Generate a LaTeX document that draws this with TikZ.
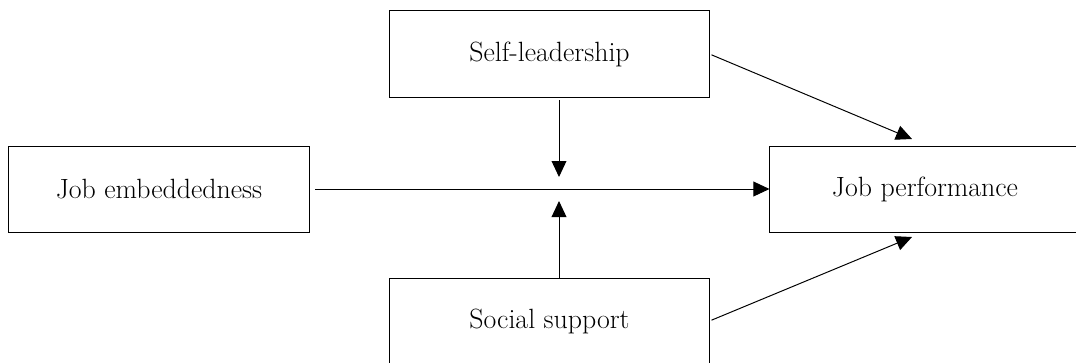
\documentclass[tikz,border=0pt]{standalone}
\usepackage{tikz}
\usetikzlibrary{arrows.meta,calc}

\tikzset{
  varbox/.style={draw=black,line width=0.7pt,minimum height=2.15cm,inner sep=0pt,
    font=\fontsize{19.8}{24}\selectfont},
  link/.style={line width=0.7pt,-{Triangle[length=4mm,width=3.7mm]}}
}

\begin{document}
\begin{tikzpicture}[x=0.025cm,y=-0.025cm]
      \useasboundingbox (0,0) rectangle (1076,362);
      \clip (0,0) rectangle (1076,362);

      % variables
      \node[varbox,minimum width=7.5cm] (embed) at (159,189) {Job embeddedness};
      \node[varbox,minimum width=7.975cm] (self) at (549.5,54) {Self-leadership};
      \node[varbox,minimum width=7.975cm] (social) at (549.5,321) {Social support};
      \node[varbox,minimum width=7.75cm] (perf) at (925,189) {Job performance};

      % arrow ends
      \coordinate (modtop) at (559,177);
      \coordinate (modbot) at (559,201);
      \coordinate (perftop) at (912,139);
      \coordinate (perfbot) at (912,237);

      \draw[link,shorten <=4pt] (embed.east) -- (perf.west);
      \draw[link,shorten <=2pt] (self.south -| modtop) -- (modtop);
      \draw[link] (social.north -| modbot) -- (modbot);
      \draw[link,shorten <=1.5pt] (self.east) -- (perftop);
      \draw[link,shorten <=1.5pt] (social.east) -- (perfbot);
\end{tikzpicture}
\end{document}
